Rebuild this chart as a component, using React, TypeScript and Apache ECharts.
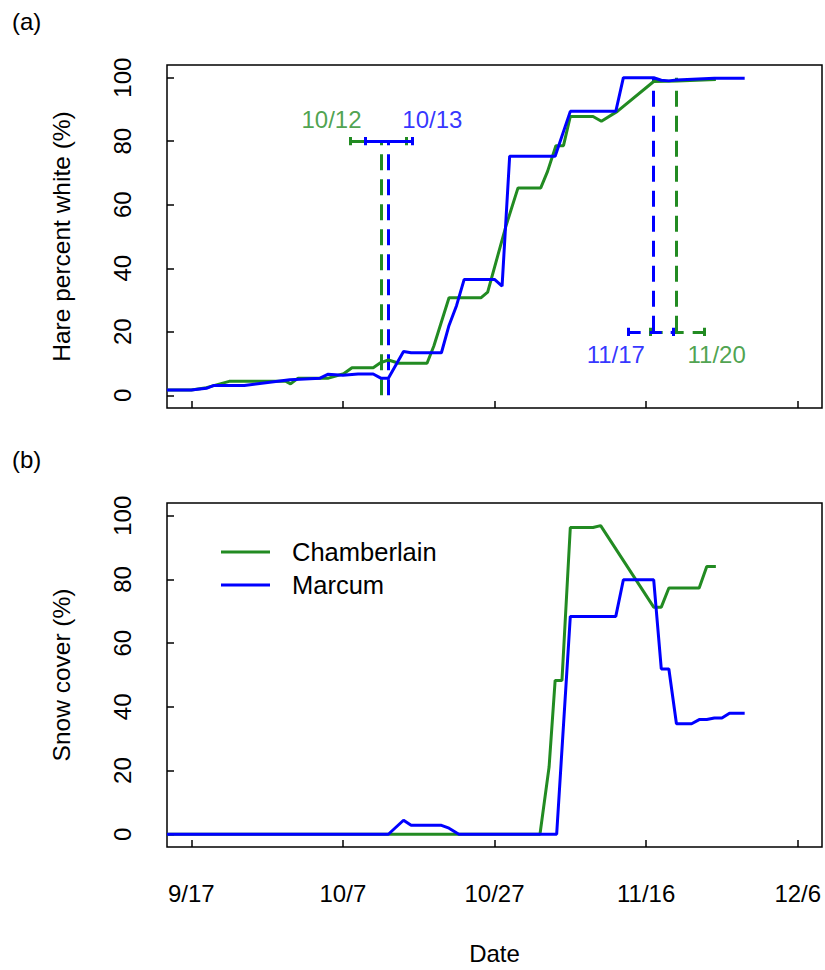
import { useEffect, useRef } from 'react';
import * as echarts from 'echarts';

// x values are days since 9/17
const xTickDays = [0, 20, 40, 60, 80];
const xTickLabels = ['9/17', '10/7', '10/27', '11/16', '12/6'];
const yTicks = [0, 20, 40, 60, 80, 100];

// (a) Hare percent white
const whiteChamberlainDays = [-3.2, 0, 2, 5, 12.5, 13.1, 14.1, 18.1, 20.1, 21.2, 24, 25, 26, 27.4, 31.1, 32, 34, 38.2, 39.1, 41.5, 43.1, 46.1, 47, 48.1, 49.1, 50, 53, 54.1, 56.2, 61, 64.1, 69.2];
const whiteChamberlainPct = [1.7, 1.7, 2.4, 4.4, 4.4, 3.6, 5.4, 5.4, 6.8, 8.7, 8.7, 10.3, 11.1, 10.1, 10.1, 15.5, 30.7, 30.7, 32.5, 53.2, 65.3, 65.3, 70.5, 78.6, 78.6, 87.8, 87.8, 86.3, 89.4, 98.8, 99, 99.4];
const whiteMarcumDays = [-3.2, 0, 2, 3, 7, 13, 17, 18, 20, 22, 24, 25, 26, 28, 29, 33, 34, 35, 36, 40, 41, 42, 48, 50, 56, 57, 61, 62, 63, 64, 69, 73];
const whiteMarcumPct = [1.7, 1.7, 2.2, 3.1, 3.1, 4.9, 5.4, 6.6, 6.3, 6.7, 6.7, 5.4, 5.4, 13.8, 13.4, 13.4, 22, 28.3, 36.5, 36.5, 34.4, 75.3, 75.3, 89.4, 89.4, 100, 100, 99.2, 99, 99.3, 99.8, 99.8];

// (b) Snow cover
const snowChamberlainDays = [-3.2, 46, 47.2, 48, 48.9, 50, 53, 54, 61, 62, 63, 67, 68, 69.2];
const snowChamberlainPct = [0, 0, 21.1, 48.3, 48.3, 96.3, 96.3, 96.9, 71.3, 71.3, 77.3, 77.3, 84.1, 84.1];
const snowMarcumDays = [-3.2, 26, 28, 29, 33, 34, 35.3, 48.2, 50, 56, 57, 61, 62, 63, 64, 66, 67, 68, 69, 70, 71, 73];
const snowMarcumPct = [0, 0, 4.4, 2.8, 2.8, 1.9, 0, 0, 68.4, 68.4, 79.9, 79.9, 51.9, 51.9, 34.7, 34.7, 36, 36, 36.5, 36.5, 38, 38];

// onset estimates with ranges, drawn at level 80
const onsetSites = ['Chamberlain', 'Marcum'];
const onsetLabels = ['10/12', '10/13'];
const onsetDays = [25, 26];
const onsetLow = [21, 22.9];
const onsetHigh = [28.4, 29.1];
const onsetLevel = 80;
const onsetLabelDays = [18.5, 31.8];
const onsetLabelPct = [86.8, 86.8];

// completion estimates with ranges, drawn at level 20
const completeSites = ['Chamberlain', 'Marcum'];
const completeLabels = ['11/20', '11/17'];
const completeDays = [64, 61];
const completeLow = [60.6, 57.7];
const completeHigh = [67.7, 63.6];
const completeLevel = 20;
const completeLabelDays = [69.3, 56];
const completeLabelPct = [12.9, 12.9];

const GREEN = '#228B22';
const BLUE = '#0000FF';
const siteColor: Record<string, string> = { Chamberlain: GREEN, Marcum: BLUE };
const FONT = '"Liberation Sans", Arial, sans-serif';
const FS = 24;
const CAP = 1.3;

const zip = (xs: number[], ys: number[]) => xs.map((x, i) => [x, ys[i]]);

function App() {
  const ref = useRef<HTMLDivElement>(null);
  useEffect(() => {
    if (!ref.current) return;
    const chart = echarts.init(ref.current, null, { renderer: 'svg' });
    const textBase = { fontFamily: FONT, fontSize: FS, color: '#000' };

    const annotationSeries: any[] = [];
    onsetSites.forEach((site, i) => {
      const c = siteColor[site];
      annotationSeries.push({
        type: 'lines', coordinateSystem: 'cartesian2d', xAxisIndex: 0, yAxisIndex: 0,
        silent: true, polyline: false,
        lineStyle: { color: c, width: 3, opacity: 1 },
        data: [
          { coords: [[onsetDays[i], 0], [onsetDays[i], onsetLevel]], lineStyle: { type: [16, 9] } },
          { coords: [[onsetLow[i], onsetLevel], [onsetHigh[i], onsetLevel]], lineStyle: { type: 'solid' } },
          { coords: [[onsetLow[i], onsetLevel - CAP], [onsetLow[i], onsetLevel + CAP]], lineStyle: { type: 'solid' } },
          { coords: [[onsetHigh[i], onsetLevel - CAP], [onsetHigh[i], onsetLevel + CAP]], lineStyle: { type: 'solid' } },
        ],
      });
    });
    completeSites.forEach((site, i) => {
      const c = siteColor[site];
      annotationSeries.push({
        type: 'lines', coordinateSystem: 'cartesian2d', xAxisIndex: 0, yAxisIndex: 0,
        silent: true, polyline: false,
        lineStyle: { color: c, width: 3, opacity: 1 },
        data: [
          { coords: [[completeDays[i], completeLevel], [completeDays[i], 100]], lineStyle: { type: [16, 9] } },
          { coords: [[completeLow[i], completeLevel], [completeHigh[i], completeLevel]], lineStyle: { type: [12, 9] } },
          { coords: [[completeLow[i], completeLevel - CAP], [completeLow[i], completeLevel + CAP]], lineStyle: { type: 'solid' } },
          { coords: [[completeHigh[i], completeLevel - CAP], [completeHigh[i], completeLevel + CAP]], lineStyle: { type: 'solid' } },
        ],
      });
    });

    const labelSeries = (sites: string[], labels: string[], xs: number[], ys: number[]) =>
      sites.map((site, i) => ({
        type: 'scatter', xAxisIndex: 0, yAxisIndex: 0, silent: true,
        symbolSize: 1, itemStyle: { color: 'rgba(0,0,0,0)' },
        label: { show: true, position: 'inside', formatter: labels[i], ...textBase, color: siteColor[site] },
        data: [[xs[i], ys[i]]],
      }));

    const dataLine = (name: string, xi: number, data: number[][]) => ({
      type: 'line', name, xAxisIndex: xi, yAxisIndex: xi, data,
      showSymbol: false, symbol: 'none', silent: true,
      lineStyle: { color: siteColor[name], width: 3 }, itemStyle: { color: siteColor[name] },
    });

    const xAxes = [0, 1].map((i) => ({
      type: 'value', gridIndex: i, min: -3.2, max: 83.2, position: 'bottom',
      axisLine: { show: false, onZero: false }, splitLine: { show: false },
      axisTick: { show: true, inside: true, length: 7, customValues: xTickDays, lineStyle: { color: '#000', width: 1.5 } },
      axisLabel: {
        show: i === 1, customValues: xTickDays, margin: 34, ...textBase,
        formatter: (v: number) => xTickLabels[xTickDays.indexOf(v)] ?? '',
      },
      name: i === 1 ? 'Date' : '', nameLocation: 'middle', nameGap: 94, nameTextStyle: textBase,
    }));
    const yNames = ['Hare percent white (%)', 'Snow cover (%)'];
    const yAxes = [0, 1].map((i) => ({
      type: 'value', gridIndex: i, min: -4, max: 104, position: 'left',
      axisLine: { show: false, onZero: false }, splitLine: { show: false },
      axisTick: { show: true, inside: true, length: 7, customValues: yTicks, lineStyle: { color: '#000', width: 1.5 } },
      axisLabel: { show: true, customValues: yTicks, rotate: 90, margin: 33, ...textBase },
      name: yNames[i], nameLocation: 'middle', nameGap: 93, nameTextStyle: { ...textBase, fontSize: 24.5 },
    }));

    chart.setOption({
      animation: false,
      backgroundColor: '#fff',
      title: [
        { text: '(a)', left: 12, top: 9, padding: 0, textStyle: { ...textBase, fontWeight: 'normal' } },
        { text: '(b)', left: 12, top: 447, padding: 0, textStyle: { ...textBase, fontWeight: 'normal' } },
      ],
      legend: {
        data: ['Chamberlain', 'Marcum'], orient: 'vertical', left: 221, top: 539,
        icon: 'rect', itemWidth: 49, itemHeight: 3, itemGap: 7, padding: 0,
        textStyle: { ...textBase, fontSize: 25.5, lineHeight: 24, padding: [0, 0, 0, 17] },
        selectedMode: false,
      },
      grid: [
        { left: 167, top: 65, width: 655, height: 343, show: true, borderColor: '#000', borderWidth: 1.5, backgroundColor: 'transparent' },
        { left: 167, top: 503, width: 655, height: 344, show: true, borderColor: '#000', borderWidth: 1.5, backgroundColor: 'transparent' },
      ],
      xAxis: xAxes,
      yAxis: yAxes,
      series: [
        ...annotationSeries,
        dataLine('Chamberlain', 0, zip(whiteChamberlainDays, whiteChamberlainPct)),
        dataLine('Marcum', 0, zip(whiteMarcumDays, whiteMarcumPct)),
        dataLine('Chamberlain', 1, zip(snowChamberlainDays, snowChamberlainPct)),
        dataLine('Marcum', 1, zip(snowMarcumDays, snowMarcumPct)),
        ...labelSeries(onsetSites, onsetLabels, onsetLabelDays, onsetLabelPct),
        ...labelSeries(completeSites, completeLabels, completeLabelDays, completeLabelPct),
      ],
    });
    return () => chart.dispose();
  }, []);
  return <div ref={ref} style={{ position: 'absolute', left: 0, top: 0, width: 825, height: 970 }} />;
}

export default App;
